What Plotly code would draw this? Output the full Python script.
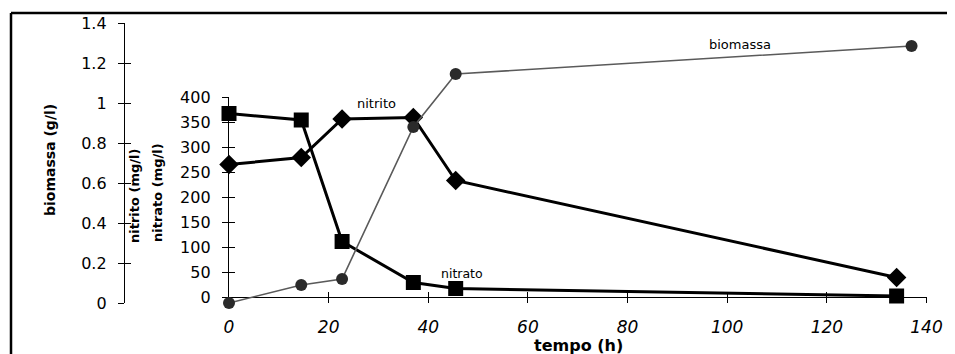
import plotly.graph_objects as go

# ---- data ----
tempo_n = [0, 14.5, 22.7, 37, 45.5, 134]          # h
nitrito = [265, 279, 356, 359, 233, 39]           # mg/l
nitrato = [367, 354, 111, 29, 17, 2]              # mg/l
tempo_b = [0, 14.5, 22.7, 37, 45.5, 137]          # h
biomassa = [0.0, 0.09, 0.12, 0.88, 1.145, 1.285]  # g/l

x_ticks = [0, 20, 40, 60, 80, 100, 120, 140]
n_ticks = [0, 50, 100, 150, 200, 250, 300, 350, 400]
b_ticks = [0, 0.2, 0.4, 0.6, 0.8, 1.0, 1.2, 1.4]
b_labels = ["0", "0.2", "0.4", "0.6", "0.8", "1", "1.2", "1.4"]

# page body has an 8px margin: figure sized to fit the window
OFF = 8
W, H = 955 - OFF, 354 - OFF
def px(x):
    return (x - OFF) / W
def py(y):
    return 1 - (y - OFF) / H

FONT = "DejaVu Sans, Verdana, sans-serif"

fig = go.Figure()

fig.add_trace(go.Scatter(
    x=tempo_b, y=biomassa, xaxis="x", yaxis="y3", mode="lines+markers",
    line=dict(color="#5a5a5a", width=1.6),
    marker=dict(symbol="circle", size=12, color="#2a2a2a"),
    cliponaxis=False, showlegend=False))
fig.add_trace(go.Scatter(
    x=tempo_n, y=nitrito, xaxis="x", yaxis="y", mode="lines+markers",
    line=dict(color="black", width=3),
    marker=dict(symbol="diamond", size=15, color="black"),
    cliponaxis=False, showlegend=False))
fig.add_trace(go.Scatter(
    x=tempo_n, y=nitrato, xaxis="x", yaxis="y", mode="lines+markers",
    line=dict(color="black", width=3),
    marker=dict(symbol="square", size=15, color="black"),
    cliponaxis=False, showlegend=False))

xdom = [px(229), px(926.5)]
ndom = [py(297), py(97)]
bdom = [py(303), py(23)]

axis_common = dict(showgrid=False, zeroline=False, linecolor="black",
                   tickcolor="black", tickwidth=1.2, automargin=False)

fig.update_layout(
    width=W, height=H, margin=dict(l=0, r=0, t=0, b=0, pad=0, autoexpand=False),
    autosize=False,
    paper_bgcolor="white", plot_bgcolor="rgba(0,0,0,0)",
    font=dict(family=FONT, color="black"),
    xaxis=dict(domain=xdom, range=[0, 140], anchor="y", showline=True, linewidth=1.3,
               ticks="outside", ticklen=5, tickvals=x_ticks,
               tickfont=dict(size=17, style="italic", family=FONT),
               ticklabelstandoff=9, **axis_common),
    xaxis2=dict(overlaying="x", range=[0, 140], anchor="y", showline=False,
                ticks="inside", ticklen=5, tickvals=x_ticks, showticklabels=False,
                **axis_common),
    yaxis=dict(domain=ndom, range=[0, 400], anchor="x", showline=True, linewidth=1.3,
               ticks="outside", ticklen=6, tickvals=n_ticks,
               tickfont=dict(size=16, family=FONT), ticklabelstandoff=8,
               **axis_common),
    yaxis2=dict(overlaying="y", range=[0, 400], anchor="x", showline=False,
                ticks="inside", ticklen=6, tickvals=n_ticks, showticklabels=False,
                **axis_common),
    yaxis3=dict(domain=bdom, range=[0, 1.4], anchor="free", position=px(124),
                showline=True, linewidth=1.3, ticks="outside", ticklen=6,
                tickvals=b_ticks, ticktext=b_labels,
                tickfont=dict(size=16, family=FONT), ticklabelstandoff=8,
                **axis_common),
    yaxis4=dict(overlaying="y3", range=[0, 1.4], anchor="free", position=px(124),
                showline=False, ticks="inside", ticklen=6, tickvals=b_ticks,
                showticklabels=False, **axis_common),
)

# dummy traces to activate overlay axes
fig.add_trace(go.Scatter(x=[None], y=[None], xaxis="x2", yaxis="y2", showlegend=False))
fig.add_trace(go.Scatter(x=[None], y=[None], xaxis="x", yaxis="y4", showlegend=False))

# axis titles and labels
ann = [
    dict(text="<b>biomassa (g/l)</b>", x=px(50), y=py(160), textangle=-90, size=14),
    dict(text="<b>nitrito (mg/l)</b>", x=px(135), y=py(196), textangle=-90, size=13),
    dict(text="<b>nitrato (mg/l)</b>", x=px(157), y=py(193), textangle=-90, size=13),
    dict(text="<b>tempo (h)</b>", x=px(578), y=py(345), textangle=0, size=16),
    dict(text="nitrito", x=px(376), y=py(104), textangle=0, size=13),
    dict(text="nitrato", x=px(462), y=py(273), textangle=0, size=12.5),
    dict(text="biomassa", x=px(740), y=py(45), textangle=0, size=13),
]
for a in ann:
    fig.add_annotation(text=a["text"], x=a["x"], y=a["y"], xref="paper", yref="paper",
                       textangle=a["textangle"], showarrow=False,
                       xanchor="center", yanchor="middle",
                       font=dict(size=a["size"], family=FONT, color="black"))

# frame
fig.add_shape(type="line", xref="paper", yref="paper", x0=px(11), x1=1, y0=py(13), y1=py(13),
              line=dict(color="black", width=2.5))
fig.add_shape(type="line", xref="paper", yref="paper", x0=px(11), x1=px(11), y0=py(13), y1=0,
              line=dict(color="black", width=2.5))

fig.write_html("out.html")
